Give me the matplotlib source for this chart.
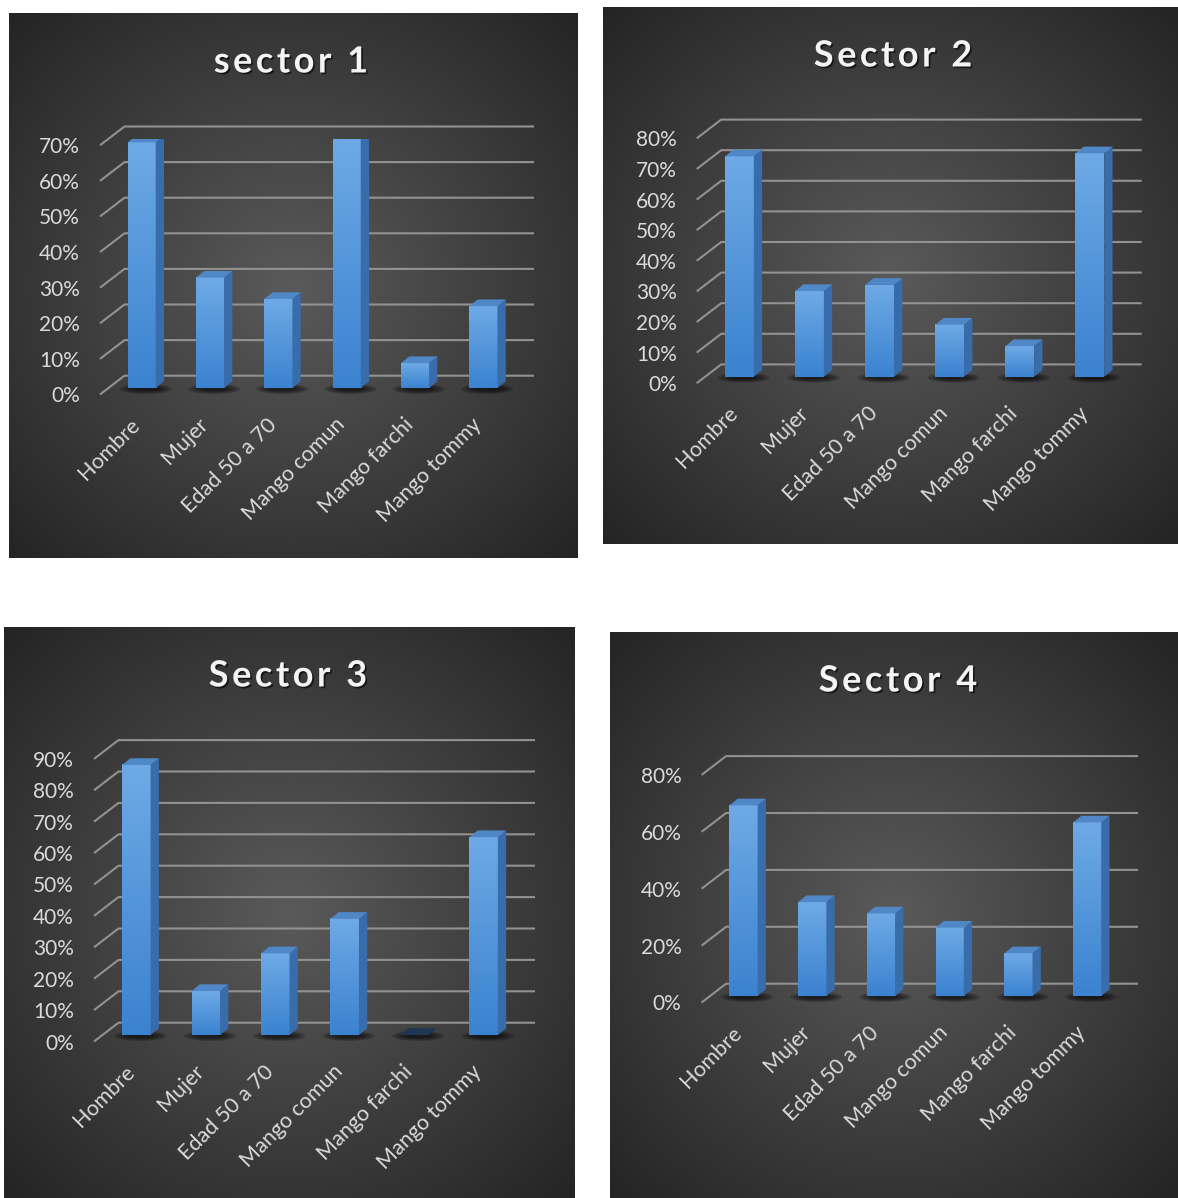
import matplotlib
matplotlib.use('Agg')
import matplotlib.pyplot as plt
import matplotlib.transforms as mtransforms
import matplotlib.patheffects as pe
from matplotlib.patches import Polygon, Ellipse
from matplotlib.colors import LinearSegmentedColormap
from matplotlib.ticker import PercentFormatter
import numpy as np

# datos
categorias = ['Hombre', 'Mujer', 'Edad 50 a 70', 'Mango comun', 'Mango farchi', 'Mango tommy']

sector1 = [69, 31, 25, 70, 7, 23]
sector2 = [72, 28, 30, 17, 10, 73]
sector3 = [86, 14, 26, 37, 0, 63]
sector4 = [67, 33, 29, 24, 15, 61]

titulos = ['sector 1', 'Sector 2', 'Sector 3', 'Sector 4']
maximos = [70, 80, 90, 80]
pasos = [10, 10, 10, 20]

W, H = 1178, 1198
fig = plt.figure(figsize=(W / 100, H / 100), dpi=100)
fig.patch.set_facecolor('white')

# posiciones en pixeles (desde arriba a la izquierda)
fondos = [(9, 13, 578, 558), (603, 7, 1178, 544), (4, 627, 575, 1198), (610, 632, 1178, 1198)]
areas = [(100, 534, 388, 138.8), (696.7, 1141.7, 376.7, 131.9),
         (94, 535, 1035, 752.4), (701.6, 1138, 996, 768.4)]
pos_titulos = [(291, 62), (893, 56), (288, 676), (898, 681)]

gris_texto = '#dadada'
frente = LinearSegmentedColormap.from_list('frente', ['#3b82d0', '#6eaae5'])


def fondo(rect):
    x0, y0, x1, y1 = rect
    axb = fig.add_axes([x0 / W, 1 - y1 / H, (x1 - x0) / W, (y1 - y0) / H], zorder=0)
    yy, xx = np.mgrid[0:1:300j, 0:1:300j]
    r = np.clip(np.sqrt((xx - 0.5) ** 2 + (yy - 0.5) ** 2) / np.sqrt(0.5), 0, 1)
    c_centro = np.array([0x5a, 0x5a, 0x5a]) / 255
    c_borde = np.array([0x24, 0x24, 0x24]) / 255
    img = c_centro + (c_borde - c_centro) * r[..., None]
    axb.imshow(img, extent=[0, 1, 0, 1], aspect='auto', interpolation='bicubic')
    axb.axis('off')


def titulo(texto, cx, cy, tam=26, espacio=3.5):
    renderer = fig.canvas.get_renderer()
    props = dict(fontsize=tam, fontweight='bold', family=['Lato', 'DejaVu Sans'], color='#f4f4f4')
    ref = fig.text(0, 0, 'xx', **props)
    w_ref = ref.get_window_extent(renderer).width
    ref.remove()
    avances = []
    for c in texto:
        t = fig.text(0, 0, 'x' + c + 'x', **props)
        avances.append(t.get_window_extent(renderer).width - w_ref)
        t.remove()
    total = sum(avances) + espacio * (len(texto) - 1)
    x = cx - total / 2
    for c, a in zip(texto, avances):
        if c != ' ':
            fig.text(x / W, 1 - cy / H, c, ha='left', va='center', zorder=5,
                     path_effects=[pe.withSimplePatchShadow(offset=(1.2, -1.2), shadow_rgbFace='black', alpha=0.6)],
                     **props)
        x += a + espacio


def grafico(idx, valores):
    xl, xr, yb, yt = areas[idx]
    ax = fig.add_axes([xl / W, 1 - yb / H, (xr - xl) / W, (yb - yt) / H], zorder=2)
    ax.patch.set_alpha(0)
    xmin, xmax = -0.61, 5.74
    ymax = maximos[idx]
    px_x = (xmax - xmin) / (xr - xl)
    px_y = ymax / (yb - yt)

    # lineas de division con la pared del fondo
    ticks = np.arange(0, ymax + 0.1, pasos[idx])
    xback = xmin + 24.5 * px_x
    for v in ticks:
        yf = v - 6.5 * px_y
        ybk = v + 12.3 * px_y
        ax.plot([xmin, xback, xmax], [yf, ybk, ybk], color='#929292', lw=1.5,
                zorder=1, clip_on=False, solid_capstyle='butt')

    x = np.arange(len(valores))
    ancho = 0.41
    barras = ax.bar(x, valores, width=ancho, color='none', edgecolor='none', zorder=3)
    dx = 8.3 * px_x
    dy = 6.7 * px_y
    grad = np.linspace(0, 1, 256)[:, None]
    for b, v in zip(barras, valores):
        x0 = b.get_x()
        x1 = x0 + b.get_width()
        cx = x0 + b.get_width() / 2
        # sombra
        for k in range(4):
            ax.add_patch(Ellipse((cx + 4 * px_x, -1 * px_y), (52 - 8 * k) * px_x, (10 - 2 * k) * px_y,
                                 fc='black', ec='none', alpha=0.2, zorder=2, clip_on=False))
        if v > 0:
            ax.imshow(grad, extent=[x0, x1, 0, v], origin='lower', cmap=frente,
                      aspect='auto', zorder=3, interpolation='bilinear')
            ax.add_patch(Polygon([[x1, 0], [x1, v], [x1 + dx, v + dy], [x1 + dx, dy]],
                                 closed=True, fc='#396cab', ec='none', zorder=3))
            ax.add_patch(Polygon([[x0, v], [x1, v], [x1 + dx, v + dy], [x0 + dx, v + dy]],
                                 closed=True, fc='#5088c7', ec='none', zorder=3))
        else:
            ax.add_patch(Polygon([[x0, 0], [x1, 0], [x1 + dx, dy], [x0 + dx, dy]],
                                 closed=True, fc='#1d3653', ec='none', zorder=3))

    ax.set_xlim(xmin, xmax)
    ax.set_ylim(0, ymax)
    for s in ax.spines.values():
        s.set_visible(False)

    ax.set_yticks(ticks)
    ax.yaxis.set_major_formatter(PercentFormatter(100, decimals=0))
    ax.tick_params(axis='y', length=0, pad=14.4, labelsize=15, labelcolor=gris_texto)
    bajar = mtransforms.ScaledTranslation(0, -6.5 / 100, fig.dpi_scale_trans)
    for lab in ax.get_yticklabels():
        lab.set_transform(lab.get_transform() + bajar)
        lab.set_family(['Lato', 'DejaVu Sans'])

    ax.set_xticks(x, categorias)
    ax.tick_params(axis='x', length=0, pad=19, labelsize=15.5, labelcolor=gris_texto)
    mover = mtransforms.ScaledTranslation(-12 / 100, 0, fig.dpi_scale_trans)
    for lab in ax.get_xticklabels():
        lab.set_rotation(45)
        lab.set_ha('right')
        lab.set_rotation_mode('anchor')
        lab.set_family(['Lato', 'DejaVu Sans'])
        lab.set_transform(lab.get_transform() + mover)
    return ax


series = [sector1, sector2, sector3, sector4]
for i in range(4):
    fondo(fondos[i])
    grafico(i, series[i])
    titulo(titulos[i], *pos_titulos[i])

fig.savefig('out.png', dpi=100, facecolor='white')
